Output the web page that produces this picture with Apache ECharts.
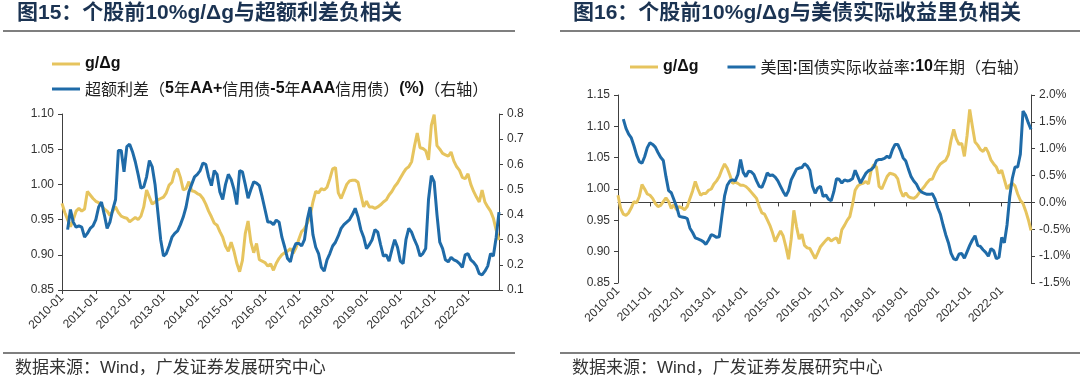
<!DOCTYPE html>
<html><head><meta charset="utf-8">
<script src="https://cdn.jsdelivr.net/npm/echarts@6/dist/echarts.min.js"></script>
<style>
html,body{margin:0;padding:0;background:#fff;}
#wrap{position:relative;width:1080px;height:383px;overflow:hidden;}
#c1{position:absolute;left:0;top:0;width:540px;height:383px;}
#c2{position:absolute;left:540px;top:0;width:540px;height:383px;}
</style></head>
<body><div id="wrap"><div id="c1"></div><div id="c2"></div></div>
<script>
// ---- data (monthly, 2010-01 .. 2022-12) ----
const startYear = 2010, endYear = 2022;
const months = [];
for (let y = startYear; y <= endYear; y++) for (let m = 1; m <= 12; m++) months.push(y + '-' + (m < 10 ? '0' + m : m));

const titleLeft = '图15：个股前10%g/Δg与超额利差负相关';
const titleRight = '图16：个股前10%g/Δg与美债实际收益里负相关';
const sourceText = '数据来源：Wind，广发证券发展研究中心';
const nameG = 'g/Δg';
const nameSpread = '超额利差（5年AA+信用债-5年AAA信用债）(%)（右轴）';
const nameReal = '美国:国债实际收益率:10年期（右轴）';

const gLeft = [0.973,0.960,0.950,0.940,0.950,0.962,0.966,0.962,0.965,0.990,0.985,0.980,
0.976,0.974,0.971,0.965,0.962,0.956,0.962,0.968,0.960,0.955,0.953,0.952,
0.947,0.950,0.953,0.950,0.955,0.968,0.992,0.982,0.972,0.975,0.978,0.980,
0.982,0.988,0.999,1.003,1.018,1.022,1.010,0.992,0.994,1.004,0.991,0.990,
0.987,0.985,0.980,0.972,0.962,0.954,0.945,0.942,0.933,0.925,0.912,0.905,
0.918,0.905,0.888,0.876,0.892,0.930,0.948,0.918,0.903,0.916,0.893,0.891,
0.889,0.884,0.887,0.878,0.888,0.895,0.900,0.903,0.905,0.909,0.902,0.910,
0.922,0.933,0.937,0.945,0.955,0.975,0.990,0.988,0.994,0.992,0.996,1.008,
1.022,1.024,0.988,0.980,0.990,1.000,1.005,1.006,1.006,1.003,0.985,0.968,
0.976,0.968,0.968,0.966,0.968,0.971,0.975,0.978,0.985,0.990,0.997,1.002,
1.009,1.016,1.022,1.025,1.032,1.054,1.073,1.052,1.051,1.048,1.035,1.084,
1.099,1.055,1.050,1.044,1.042,1.040,1.046,1.033,1.025,1.020,1.010,1.008,
1.015,1.000,0.990,0.982,0.975,0.992,0.975,0.968,0.962,0.952,0.935,0.921];

const spread = [null,null,0.34,0.42,0.37,0.35,0.355,0.35,0.31,0.325,0.345,0.355,
0.38,0.43,0.45,0.40,0.345,0.37,0.42,0.46,0.655,0.655,0.57,0.67,
0.68,0.65,0.61,0.56,0.505,0.51,0.55,0.615,0.59,0.52,0.41,0.30,
0.235,0.245,0.275,0.31,0.325,0.335,0.36,0.39,0.43,0.49,0.52,0.55,
0.56,0.575,0.605,0.60,0.55,0.515,0.575,0.56,0.49,0.46,0.52,0.56,
0.54,0.50,0.44,0.575,0.57,0.52,0.465,0.50,0.53,0.525,0.515,0.47,
0.42,0.37,0.37,0.36,0.378,0.37,0.31,0.27,0.225,0.212,0.26,0.285,
0.285,0.275,0.30,0.38,0.43,0.32,0.27,0.245,0.19,0.175,0.22,0.245,
0.275,0.29,0.315,0.345,0.36,0.37,0.38,0.40,0.425,0.39,0.34,0.31,
0.265,0.28,0.30,0.34,0.33,0.28,0.235,0.24,0.215,0.26,0.30,0.27,
0.215,0.205,0.30,0.345,0.33,0.30,0.275,0.235,0.245,0.265,0.46,0.555,
0.53,0.40,0.29,0.265,0.22,0.212,0.23,0.22,0.215,0.205,0.19,0.24,
0.245,0.22,0.21,0.195,0.165,0.16,0.175,0.195,0.245,0.235,0.31,0.41];

const gRight = [0.990,0.969,0.960,0.958,0.962,0.970,0.980,0.978,0.988,1.007,1.000,0.992,
0.990,0.985,0.977,0.972,0.974,0.980,0.986,0.980,0.969,0.975,0.967,0.972,
0.970,0.967,0.972,0.985,0.997,1.012,1.000,0.990,0.993,0.993,0.998,1.000,
1.008,1.013,1.020,1.031,1.040,1.033,1.022,1.009,1.011,1.009,1.006,1.006,
1.004,1.000,0.995,0.990,0.985,0.972,0.962,0.960,0.951,0.942,0.930,0.916,
0.925,0.933,0.925,0.908,0.888,0.920,0.966,0.940,0.920,0.928,0.910,0.906,
0.905,0.897,0.889,0.898,0.908,0.913,0.918,0.922,0.917,0.920,0.922,0.913,
0.935,0.942,0.950,0.956,0.975,0.998,1.005,1.008,1.009,1.012,1.008,1.030,
1.039,1.035,1.004,1.000,1.010,1.020,1.025,1.024,1.022,1.016,0.998,0.988,
0.994,0.988,0.986,0.985,0.988,0.994,0.999,1.004,1.010,1.015,1.016,1.026,
1.034,1.040,1.043,1.046,1.055,1.078,1.095,1.080,1.071,1.073,1.052,1.085,
1.127,1.100,1.075,1.070,1.063,1.060,1.066,1.058,1.046,1.040,1.035,1.025,
1.030,1.015,1.000,1.006,1.009,1.005,0.992,0.982,0.977,0.965,0.951,0.934];

const realYield = [null,null,1.55,1.38,1.27,1.20,1.05,0.88,0.76,0.73,0.85,1.02,
1.11,1.08,1.03,0.93,0.84,0.78,0.48,0.22,0.18,0.05,-0.08,-0.26,
-0.27,-0.28,-0.30,-0.48,-0.56,-0.66,-0.68,-0.70,-0.73,-0.78,-0.70,-0.60,
-0.62,-0.65,-0.64,-0.25,0.12,0.32,0.40,0.42,0.40,0.52,0.80,0.56,
0.48,0.58,0.57,0.52,0.40,0.30,0.28,0.40,0.55,0.50,0.51,0.47,
0.40,0.30,0.20,0.12,0.22,0.42,0.52,0.62,0.64,0.65,0.72,0.68,
0.60,0.30,0.17,0.27,0.30,0.11,0.14,0.06,0.03,0.20,0.44,0.43,
0.36,0.42,0.40,0.41,0.44,0.60,0.48,0.36,0.45,0.54,0.59,0.61,
0.66,0.78,0.80,0.80,0.82,0.86,0.83,0.98,1.08,1.08,0.97,0.83,
0.77,0.62,0.48,0.40,0.34,0.24,0.19,0.17,0.15,0.15,0.16,0.06,
-0.10,-0.22,-0.42,-0.60,-0.75,-0.95,-1.05,-1.07,-0.96,-0.95,-1.04,-0.92,
-0.80,-0.70,-0.62,-0.80,-0.82,-0.88,-0.93,-1.00,-0.86,-0.90,-1.05,-1.02,
-0.65,-0.75,-0.42,0.10,0.45,0.66,0.66,0.90,1.70,1.62,1.48,1.36];

// ---- styling ----
const YELLOW = '#E6C45E', BLUE = '#1F6BA8';
const AX = '#404040', LBL = '#333333';
const LATIN = "'Liberation Sans', Arial, sans-serif";
const CJK = "'Noto Sans CJK SC', sans-serif";
const FONT = "'Liberation Sans', 'Noto Sans CJK SC', sans-serif";

function richName(name) {
  let out = '', cur = '', curType = null;
  for (const ch of name) {
    const t = /[\u3000-\u9fff\uff00-\uffef]/.test(ch) ? 'c' : 'b';
    if (t !== curType && cur) { out += '{' + curType + '|' + cur + '}'; cur = ''; }
    curType = t; cur += ch;
  }
  if (cur) out += '{' + curType + '|' + cur + '}';
  return out;
}
const legendRich = {
  b: { fontFamily: LATIN, fontWeight: 'bold', fontSize: 16, color: '#111' },
  c: { fontFamily: CJK, fontWeight: 'normal', fontSize: 16, color: '#222' }
};

function xAxisCfg() {
  return {
    type: 'category', data: months, boundaryGap: false,
    axisLine: { lineStyle: { color: AX, width: 1 } },
    axisTick: { interval: 11, length: 4, lineStyle: { color: AX } },
    axisLabel: { interval: 11, rotate: 45, fontSize: 12, color: LBL, fontFamily: LATIN, margin: 6 },
    splitLine: { show: false }
  };
}
function yAxisCfg(pos, min, max, interval, fmt) {
  return {
    type: 'value', position: pos, min: min, max: max, interval: interval,
    axisLine: { show: true, lineStyle: { color: AX, width: 1 } },
    axisTick: { show: true, length: 4, lineStyle: { color: AX } },
    axisLabel: { fontSize: 12, color: LBL, fontFamily: LATIN, margin: 8, formatter: fmt },
    splitLine: { show: false }
  };
}
function frame(title, lineX0, lineX1, titleX, srcX) {
  return [
    { type: 'text', left: titleX, top: 3, style: { text: title, font: "bold 21px 'Liberation Sans','Noto Sans CJK SC',sans-serif", fill: '#1b3352' } },
    { type: 'line', shape: { x1: lineX0, y1: 31, x2: lineX1, y2: 31 }, style: { stroke: '#7f7f7f', lineWidth: 2 } },
    { type: 'line', shape: { x1: lineX0, y1: 353, x2: lineX1, y2: 353 }, style: { stroke: '#7f7f7f', lineWidth: 2 } },
    { type: 'text', left: srcX, top: 360, style: { text: sourceText, font: "17px 'Liberation Sans','Noto Sans CJK SC',sans-serif", fill: '#333' } }
  ];
}
function lineSeries(name, data, color, yIdx) {
  return { name: name, type: 'line', data: data, yAxisIndex: yIdx, showSymbol: false, symbol: 'none',
    lineStyle: { width: 3, color: color }, itemStyle: { color: color }, connectNulls: false, animation: false };
}

const c1 = echarts.init(document.getElementById('c1'), null, { renderer: 'canvas' });
c1.setOption({
  animation: false,
  textStyle: { fontFamily: FONT },
  graphic: frame(titleLeft, 3, 515, 17, 15),
  legend: {
    orient: 'vertical', left: 47, top: 51, itemGap: 9, itemWidth: 28, itemHeight: 3, icon: 'rect',
    data: [nameG, nameSpread],
    formatter: richName, textStyle: { rich: legendRich, lineHeight: 16 }
  },
  grid: { left: 62, right: 41, top: 114, height: 176, containLabel: false },
  xAxis: xAxisCfg(),
  yAxis: [
    yAxisCfg('left', 0.85, 1.10, 0.05, v => v.toFixed(2)),
    yAxisCfg('right', 0.1, 0.8, 0.1, v => v.toFixed(1))
  ],
  series: [lineSeries(nameG, gLeft, YELLOW, 0), lineSeries(nameSpread, spread, BLUE, 1)]
});

const c2 = echarts.init(document.getElementById('c2'), null, { renderer: 'canvas' });
c2.setOption({
  animation: false,
  textStyle: { fontFamily: FONT },
  graphic: frame(titleRight, 20, 540, 33, 32),
  legend: {
    orient: 'horizontal', left: 85, top: 54, itemGap: 29, itemWidth: 28, itemHeight: 3, icon: 'rect',
    data: [nameG, nameReal],
    formatter: richName, textStyle: { rich: legendRich, lineHeight: 16 }
  },
  grid: { left: 78, right: 49, top: 95, height: 188, containLabel: false },
  xAxis: xAxisCfg(),
  yAxis: [
    yAxisCfg('left', 0.85, 1.15, 0.05, v => v.toFixed(2)),
    yAxisCfg('right', -1.5, 2.0, 0.5, v => v.toFixed(1) + '%')
  ],
  series: [lineSeries(nameG, gRight, YELLOW, 0), lineSeries(nameReal, realYield, BLUE, 1)]
});
</script></body></html>
